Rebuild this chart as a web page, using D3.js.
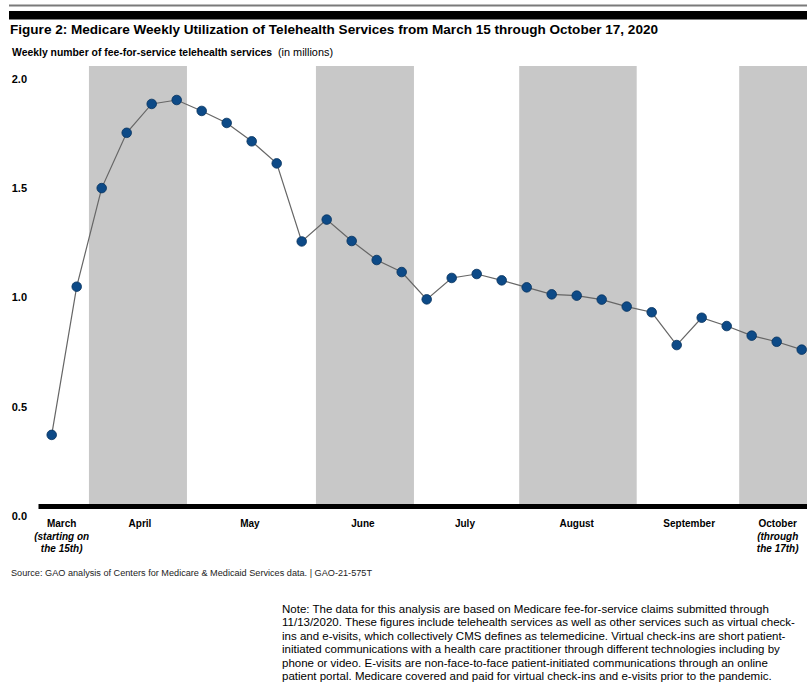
<!DOCTYPE html>
<html><head><meta charset="utf-8">
<script src="https://cdn.jsdelivr.net/npm/d3@7"></script>
<style>body{margin:0;background:#fff}svg{display:block;font-family:"Liberation Sans",Arial,sans-serif}</style>
</head><body><svg id="c" width="807" height="687"></svg>
<script>
// ---- data ----
const weeks = ["Mar 15","Mar 22","Mar 29","Apr 5","Apr 12","Apr 19","Apr 26","May 3","May 10","May 17","May 24","May 31","Jun 7","Jun 14","Jun 21","Jun 28","Jul 5","Jul 12","Jul 19","Jul 26","Aug 2","Aug 9","Aug 16","Aug 23","Aug 30","Sep 6","Sep 13","Sep 20","Sep 27","Oct 4","Oct 11"];
const services = [0.371,1.049,1.500,1.753,1.885,1.903,1.853,1.798,1.714,1.613,1.256,1.356,1.258,1.171,1.116,0.991,1.089,1.107,1.078,1.046,1.014,1.008,0.990,0.958,0.932,0.782,0.907,0.869,0.825,0.797,0.761];
const yTicks = [0, 0.5, 1.0, 1.5, 2.0];
const monthNames = ["March","April","May","June","July","August","September","October"];
const monthSub = [["(starting on","the 15th)"],[],[],[],[],[],[],["(through","the 17th)"]];
const monthCenters = [0.4,3.53,7.93,12.45,16.53,21.0,25.5,29.04]; // in week units
const shadedStart = [1.49,10.57,18.70,27.50];
const shadedEnd   = [5.41,14.49,23.40,30.40];
const titleText = "Figure 2: Medicare Weekly Utilization of Telehealth Services from March 15 through October 17, 2020";
const subtitleBold = "Weekly number of fee-for-service telehealth services";
const subtitleUnit = "(in millions)";
const sourceText = "Source: GAO analysis of Centers for Medicare & Medicaid Services data.  |  GAO-21-575T";
const noteLines = [
 "Note: The data for this analysis are based on Medicare fee-for-service claims submitted through",
 "11/13/2020. These figures include telehealth services as well as other services such as virtual check-",
 "ins and e-visits, which collectively CMS defines as telemedicine. Virtual check-ins are short patient-",
 "initiated communications with a health care practitioner through different technologies including by",
 "phone or video. E-visits are non-face-to-face patient-initiated communications through an online",
 "patient portal. Medicare covered and paid for virtual check-ins and e-visits prior to the pandemic."
];

// ---- layout ----
const svg = d3.select("#c");
const x = d3.scalePoint().domain(weeks).range([51.7, 801.7]).padding(0);
const wk = d3.scaleLinear().domain([0, weeks.length-1]).range([51.7, 801.7]);
const y = d3.scaleLinear().domain([0, 2]).range([516, 78.8]);
const plotTop = 66, axisY = 506.5;

// top rules
svg.append("rect").attr("x",9).attr("y",4.5).attr("width",798).attr("height",2).attr("fill","#7a7a7a");
svg.append("rect").attr("x",9).attr("y",11).attr("width",798).attr("height",8.5).attr("fill","#000");

// title
svg.append("text").attr("x",10).attr("y",34).attr("font-size",13.5).attr("font-weight","bold")
  .attr("textLength",648).attr("lengthAdjust","spacingAndGlyphs").text(titleText);
svg.append("text").attr("x",12).attr("y",55.5).attr("font-size",10).attr("font-weight","bold")
  .attr("textLength",260).attr("lengthAdjust","spacingAndGlyphs").text(subtitleBold);
svg.append("text").attr("x",278).attr("y",55.5).attr("font-size",10)
  .attr("textLength",55).attr("lengthAdjust","spacingAndGlyphs").text(subtitleUnit);

// shaded bands
svg.append("g").selectAll("rect").data(shadedStart).join("rect")
  .attr("x", d => wk(d))
  .attr("width", (d,i) => Math.min(wk(shadedEnd[i]), 807) - wk(d))
  .attr("y", plotTop).attr("height", axisY - plotTop)
  .attr("fill","#c8c8c8");

// y axis labels
const ya = svg.append("g").attr("transform","translate(27,0)")
  .call(d3.axisLeft(y).tickValues(yTicks).tickFormat(d3.format(".1f")).tickSize(0).tickPadding(0));
ya.select(".domain").remove();
ya.selectAll("text").attr("font-size",11).attr("font-weight","bold").attr("fill","#000")
  .attr("font-family","'Liberation Sans',Arial,sans-serif");

// baseline axis
svg.append("rect").attr("x",38.5).attr("y",axisY-2.5).attr("width",807-38.5).attr("height",5).attr("fill","#000");

// month labels
const mg = svg.append("g").selectAll("text").data(monthNames).join("text")
  .attr("x",(d,i)=>wk(monthCenters[i])).attr("y",527)
  .attr("text-anchor","middle").attr("font-size",10).attr("font-weight","bold").attr("fill","#000");
mg.append("tspan").text(d=>d);
mg.each(function(d,i){
  const t = d3.select(this);
  monthSub[i].forEach((s,k)=>{
    t.append("tspan").attr("x",wk(monthCenters[i])).attr("y",527+12.7*(k+1))
      .attr("font-style","italic").text(s);
  });
});

// line + points
svg.append("path").datum(services)
  .attr("d", d3.line().x((d,i)=>x(weeks[i])).y(d=>y(d)))
  .attr("fill","none").attr("stroke","#666").attr("stroke-width",1.2);
svg.append("g").selectAll("circle").data(services).join("circle")
  .attr("cx",(d,i)=>x(weeks[i])).attr("cy",d=>y(d)).attr("r",4.8)
  .attr("fill","#0d4a87").attr("stroke","#06325e").attr("stroke-width",0.8);

// source
svg.append("text").attr("x",11).attr("y",576).attr("font-size",8.5).attr("fill","#222")
  .attr("textLength",361).attr("lengthAdjust","spacingAndGlyphs").text(sourceText);

// note
svg.append("g").selectAll("text").data(noteLines).join("text")
  .attr("x",282).attr("y",(d,i)=>613+13.4*i).attr("font-size",11.5).attr("fill","#000")
  .text(d=>d);
</script></body></html>
